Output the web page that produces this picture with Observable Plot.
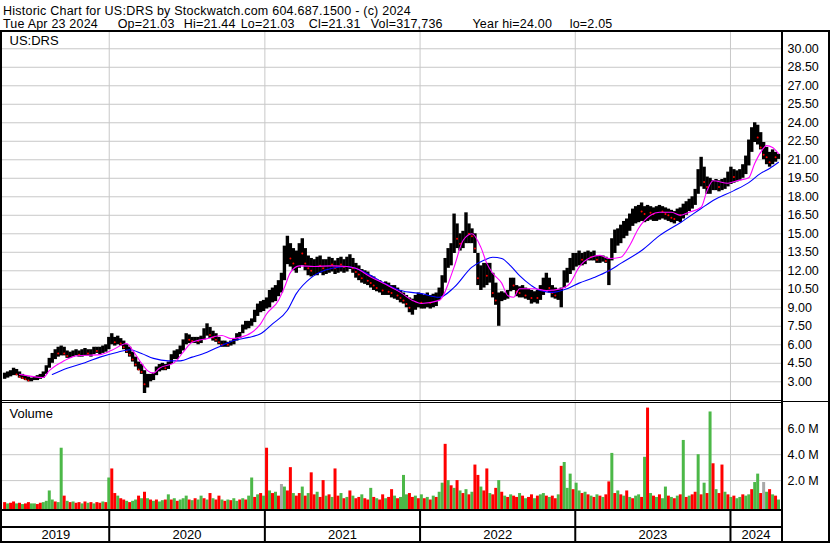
<!DOCTYPE html>
<html><head><meta charset="utf-8">
<script src="https://cdn.jsdelivr.net/npm/d3@7"></script>
<script src="https://cdn.jsdelivr.net/npm/@observablehq/plot@0.6"></script>
<style>
html,body{margin:0;padding:0;background:#fff;}
#chart{position:relative;width:830px;height:543px;overflow:hidden;font-family:"Liberation Sans",Arial,sans-serif;background:#fff;}
.ln{position:absolute;background:#000;}
.panel{position:absolute;left:0;}
</style></head><body><div id="chart"></div>
<script>
// ---------- header text ----------
const titleLine = "Historic Chart for US:DRS by Stockwatch.com 604.687.1500 - (c) 2024";
const infoFields = ["Tue Apr 23 2024", "Op=21.03", "Hi=21.44", "Lo=21.03", "Cl=21.31", "Vol=317,736", "Year hi=24.00", "lo=2.05"];
const symbol = "US:DRS";
const volumeLabel = "Volume";

// ---------- weekly price data (week ending dates counted back from the last bar) ----------
const lastBar = "2024-04-23";
const lo = [
3.2,3.3,3.4,3.5,3.5,3.3,3.2,3.1,3.0,3.0,
3.1,3.1,3.2,3.3,3.6,4.1,4.5,4.8,5.0,5.1,
5.1,4.9,4.9,5.0,5.1,5.0,5.0,5.1,5.1,5.0,
5.2,5.3,5.2,5.3,5.4,5.6,6.0,5.9,6.0,5.9,
5.6,5.3,5.0,4.6,4.2,3.9,3.6,2.05,2.5,3.0,
3.1,3.5,3.8,3.9,3.9,4.0,4.4,4.8,4.8,5.2,
5.5,6.0,6.1,6.1,6.1,6.0,6.1,6.4,6.7,6.5,
6.3,6.2,6.0,5.8,5.8,5.8,5.9,6.0,6.3,6.5,
6.9,7.2,7.3,7.5,7.8,8.3,8.6,8.7,8.9,9.0,
9.4,9.5,9.9,10.2,11.2,12.5,12.3,12.0,11.8,12.2,
12.4,12.0,11.6,11.5,11.6,11.6,11.8,11.6,11.7,11.8,
11.9,11.7,11.8,11.9,11.8,11.9,12.1,11.8,11.4,11.2,
11.0,10.9,10.8,10.6,10.4,10.3,10.2,10.0,10.0,10.0,
9.8,9.7,9.6,9.4,9.3,9.0,8.6,8.4,8.8,9.0,
8.9,8.9,9.0,8.9,9.0,9.1,9.6,9.9,11.0,12.2,
12.4,13.4,13.8,13.6,13.8,14.2,14.2,14.2,13.4,10.8,
10.4,10.6,10.8,11.0,9.8,9.2,7.5,9.5,9.6,9.7,
10.3,10.4,9.9,9.8,9.8,9.7,9.6,9.3,9.4,9.3,
9.6,10.0,10.4,10.2,9.8,9.7,9.6,9.0,10.6,11.0,
11.7,12.0,12.3,12.4,12.4,12.5,12.8,12.8,12.8,12.6,
12.6,12.7,12.6,10.8,12.8,13.4,14.0,14.2,14.6,14.8,
15.2,15.6,15.8,15.9,16.0,15.9,16.0,16.1,16.0,16.0,
16.1,16.2,16.1,16.0,15.9,15.8,16.0,15.9,16.2,16.5,
16.8,17.0,17.3,18.2,18.8,18.6,18.2,18.2,18.5,18.5,
18.4,18.5,18.6,18.8,19.0,19.1,19.2,19.3,19.5,19.8,
20.5,21.6,22.4,22.2,21.8,21.0,20.6,20.4,20.6,20.8,21.03];
const hi = [
3.7,3.8,3.9,4.1,4.0,3.8,3.6,3.5,3.4,3.3,
3.4,3.5,3.6,3.8,4.3,4.9,5.3,5.6,5.8,5.9,
5.8,5.5,5.4,5.5,5.6,5.5,5.6,5.7,5.6,5.6,
5.8,5.8,5.8,5.9,6.0,6.6,6.9,6.6,6.7,6.5,
6.3,6.0,5.8,5.4,5.0,4.6,4.4,3.9,3.6,3.6,
3.7,4.2,4.4,4.5,4.4,4.6,5.2,5.5,5.6,5.9,
6.4,6.9,6.8,6.6,6.6,6.6,6.7,7.3,7.7,7.4,
7.1,6.9,6.6,6.3,6.3,6.2,6.3,6.5,6.9,7.0,
7.6,7.9,7.9,8.1,8.8,9.3,9.5,9.6,9.8,10.4,
10.6,10.8,11.2,11.8,14.0,14.8,14.2,13.8,13.6,14.2,
14.6,13.8,13.2,13.0,12.9,13.1,13.2,12.9,12.9,13.1,
13.0,12.8,13.0,13.1,12.9,13.1,13.3,13.0,12.6,12.4,
12.1,12.0,11.9,11.6,11.5,11.3,11.2,11.0,11.1,11.0,
10.8,10.8,10.6,10.4,10.2,10.0,9.8,9.7,10.0,10.2,
10.1,10.0,10.2,10.0,10.1,10.2,10.6,11.6,13.0,13.8,
14.2,16.6,15.8,15.0,15.2,16.7,15.8,15.4,15.0,13.4,
12.4,12.6,12.6,12.6,11.8,11.0,10.2,10.3,10.2,10.4,
11.4,11.4,10.8,10.7,10.8,10.6,10.5,10.4,10.3,10.4,
10.8,11.4,11.8,11.4,10.8,10.6,10.5,10.6,12.0,12.2,
13.0,13.4,13.4,13.6,13.4,13.5,13.6,13.5,13.6,13.2,
13.2,13.2,13.1,13.0,14.6,15.3,15.4,15.7,16.0,16.2,
16.6,17.0,17.2,17.3,17.5,17.2,17.3,17.2,17.1,17.2,
17.3,17.2,17.1,17.0,16.9,16.8,17.0,17.1,17.4,17.6,
17.8,18.0,18.6,20.2,21.2,20.4,19.6,19.5,19.3,19.4,
19.3,19.4,19.5,20.0,20.4,20.2,20.1,20.2,20.6,21.3,
22.6,23.6,24.0,23.8,23.2,22.4,22.0,21.6,21.8,21.6,21.44];
const close = [
3.5,3.6,3.7,3.8,3.6,3.4,3.3,3.2,3.1,3.2,
3.3,3.4,3.4,3.7,4.2,4.7,5.0,5.4,5.3,5.6,
5.3,5.1,5.2,5.3,5.4,5.2,5.4,5.5,5.3,5.4,
5.6,5.5,5.6,5.7,5.8,6.3,6.5,6.2,6.4,6.1,
5.8,5.5,5.2,4.8,4.4,4.0,3.8,2.8,3.2,3.3,
3.5,4.0,4.1,4.2,4.1,4.4,5.0,5.2,5.4,5.6,
6.2,6.5,6.4,6.3,6.4,6.3,6.5,7.0,7.2,6.8,
6.6,6.4,6.2,6.0,6.1,6.0,6.1,6.3,6.6,6.8,
7.4,7.6,7.7,7.9,8.6,9.0,9.2,9.4,9.5,10.0,
10.2,10.4,10.9,11.5,13.2,13.8,13.0,12.6,12.8,13.5,
13.4,12.6,12.2,12.0,12.3,12.5,12.4,12.2,12.4,12.6,
12.5,12.2,12.6,12.5,12.3,12.7,12.8,12.2,11.9,11.7,
11.4,11.5,11.2,11.0,10.8,10.6,10.7,10.4,10.6,10.3,
10.2,10.3,10.0,9.8,9.6,9.3,9.0,9.2,9.5,9.6,
9.4,9.5,9.7,9.4,9.6,9.8,10.2,11.2,12.6,13.2,
13.6,15.2,14.6,14.2,14.6,15.5,15.0,14.8,13.8,11.4,
11.8,12.0,11.6,11.8,10.2,9.6,9.8,9.9,9.9,10.1,
11.0,10.8,10.3,10.2,10.4,10.0,10.1,9.8,9.9,9.8,
10.4,11.0,11.2,10.6,10.2,10.0,10.1,10.3,11.6,11.8,
12.6,12.8,13.0,13.2,12.9,13.1,13.3,13.1,13.2,12.9,
12.9,13.0,12.8,12.0,14.2,14.8,14.9,15.2,15.5,15.8,
16.2,16.6,16.8,16.9,16.8,16.6,16.8,16.7,16.6,16.8,
16.9,16.8,16.6,16.5,16.3,16.2,16.6,16.5,17.0,17.2,
17.4,17.6,18.3,19.8,20.0,19.2,18.8,18.9,18.9,19.0,
18.8,19.1,19.2,19.6,19.8,19.6,19.7,19.8,20.2,20.9,
22.2,23.0,23.2,22.8,22.0,21.4,21.2,20.8,21.4,21.2,21.31];
// weekly volume (millions) and bar colour code g = up, r = down, n = unchanged
const volume = [
0.3,0.2,0.25,0.35,0.2,0.25,0.15,0.2,0.3,0.2,
0.2,0.15,0.25,0.3,0.4,1.2,0.5,0.35,0.3,4.5,
0.8,0.4,0.3,0.35,0.25,0.3,0.2,0.35,0.25,0.3,
0.2,0.3,0.25,0.35,0.3,2.2,2.9,1.0,0.8,0.6,
0.5,0.4,0.3,0.4,0.5,0.8,0.6,1.1,0.6,0.5,
0.4,0.5,0.35,0.45,0.5,0.9,0.5,0.6,0.4,0.5,
0.6,0.8,0.5,0.45,0.6,0.5,0.8,0.6,0.5,1.0,
0.6,0.5,0.8,0.5,0.4,0.5,0.45,0.6,0.4,0.5,
0.6,0.5,0.8,2.2,0.7,0.9,1.0,0.8,4.5,1.2,
1.0,1.1,0.8,1.7,1.5,1.2,3.0,1.0,0.8,1.0,
1.5,0.8,1.0,2.6,0.9,1.1,0.7,2.0,0.8,0.9,
0.7,2.9,0.8,1.0,0.6,0.7,1.2,0.8,0.6,0.7,
0.9,0.6,0.5,1.4,0.7,0.6,0.5,0.9,0.6,0.7,
1.3,0.8,0.6,0.7,2.4,0.9,1.0,0.7,0.8,0.6,
0.9,0.6,0.7,0.5,0.8,0.7,1.1,1.8,4.8,2.0,
1.6,1.4,2.0,1.2,1.0,1.3,0.9,1.1,3.2,2.4,
1.5,1.2,2.9,1.0,0.9,1.4,2.0,1.1,0.8,0.7,
0.9,0.8,0.7,1.0,0.8,0.6,0.7,0.9,0.6,0.8,
0.9,1.0,0.8,0.7,0.8,0.6,0.9,3.1,3.4,1.4,
2.5,1.3,1.8,1.2,1.0,1.1,0.9,0.8,0.7,0.9,
0.8,0.7,0.9,1.9,4.1,1.0,1.2,0.9,0.8,1.2,
0.7,0.6,0.8,0.9,0.7,3.8,7.6,1.0,0.8,0.7,
0.9,0.6,1.5,0.8,0.7,0.6,0.8,0.9,5.1,0.7,
0.8,0.9,1.1,4.0,0.9,1.8,1.0,7.3,3.3,1.3,
1.0,3.2,1.1,0.9,0.7,0.8,0.6,0.7,0.9,0.8,
0.9,1.3,1.85,2.5,1.0,1.85,1.1,1.3,0.9,0.8,0.5];
const volDir =
"rgrrgrgrrg"+"grrggggrgg"+"rgrgrrgrgr"+"grrgrgrrgr"+"rgrggrgrgr"+
"grggrgrgrg"+"ggrgrggrgr"+"grrgrgrggr"+"grggrgrgrg"+"rgrngrrgrr"+
"grgrrgrrgr"+"grrgrgrgrr"+"grrgrgrrgr"+"rgrgggrrgr"+"grgrgrggrg"+
"rgrgrgrgrr"+"grrgrrgrgr"+"grrgrgrrgr"+"ggrgrrgrgg"+"grggrgrgrg"+
"rgrrgrgrgr"+"grggrgrgrg"+"rggrgrgrgr"+"grrgrgrgrg"+"rrgrgrggrg"+
"grggrngrgrg";

// moving averages: [week index, value]
const pinkWeek = [5,13,15,20,24,32,36,41,43,46,48,50,52,57,60,63,68,73,76,79,83,86,88,92,94,96,99,104,110,115,118,123,128,133,137,140,146,151,154,157,160,162,164,167,169,171,173,178,182,187,190,193,197,200,203,207,210,213,217,220,224,227,230,234,236,238,243,246,250,252,254,256,258,260];
const pinkVal = [3.6,3.35,3.9,4.7,5.1,5.2,5.55,6.1,5.55,4.5,3.9,3.7,4.1,4.55,5.4,6.2,6.5,6.75,6.5,6.6,7.0,7.7,8.5,9.6,10.65,11.85,12.4,12.35,12.4,12.35,12.2,11.5,10.9,10.25,9.6,9.35,9.6,12.3,14.45,15.0,13.9,12.6,11.8,11.0,10.0,9.85,10.55,10.55,10.4,10.55,11.0,12.3,13.1,13.25,13.0,13.1,14.05,15.45,16.5,16.75,16.75,16.5,16.75,17.15,18.5,19.3,19.1,19.3,19.55,20.7,21.6,22.15,22.0,21.5];
const blueWeek = [16,21,27,32,38,42,46,50,55,59,63,68,73,77,82,86,90,95,98,103,110,115,120,126,133,140,146,151,157,161,164,167,170,173,177,180,184,189,193,198,203,207,214,220,227,234,238,245,250,254,257,260];
const blueVal = [3.6,4.1,4.55,5.0,5.4,5.6,5.3,4.9,4.7,4.7,5.0,5.4,5.95,6.35,6.6,6.9,7.7,8.8,10.15,11.45,12.2,12.35,12.0,11.2,10.4,10.15,9.85,10.65,12.3,12.85,13.1,13.0,12.4,11.6,10.8,10.4,10.25,10.55,11.0,11.45,12.0,12.6,13.65,14.85,15.9,17.05,17.7,18.5,19.15,19.9,20.3,20.8];

// axis ticks
const priceTicks = [3,4.5,6,7.5,9,10.5,12,13.5,15,16.5,18,19.5,21,22.5,24,25.5,27,28.5,30];
const volTicks = [2e6,4e6,6e6];
const years = [2019,2020,2021,2022,2023,2024];

// ---------- build ----------
const N = hi.length;
const last = new Date(lastBar + "T00:00:00Z");
const weeks = hi.map((h, i) => ({
  date: d3.utcDay.offset(last, -7 * (N - 1 - i)),
  hi: h, lo: lo[i], close: close[i], vol: volume[i] * 1e6, dir: volDir[i]
}));
const downs = weeks.filter((d, i) => i > 0 && d.close < weeks[i - 1].close);
const pink = pinkWeek.map((w, i) => ({date: weeks[w].date, v: pinkVal[i]}));
const blue = blueWeek.map((w, i) => ({date: weeks[w].date, v: blueVal[i]}));
const colorOf = {g: "#4cb848", r: "#ff0000", n: "#a8a8a8"};

const xDomain = [new Date(Date.UTC(2019, 3, 25)), new Date(Date.UTC(2024, 3, 30))];
const yearStarts = years.slice(1).map(y => new Date(Date.UTC(y, 0, 1)));
const yearMid = years.map(y => {
  const a = Math.max(+new Date(Date.UTC(y, 0, 1)), +xDomain[0]);
  const b = Math.min(+new Date(Date.UTC(y + 1, 0, 1)), +xDomain[1]);
  return {label: String(y), date: new Date((a + b) / 2)};
});
const GRID = "#c8c8c8";
const FONT = "Liberation Sans, Arial, sans-serif";
const common = {width: 830, marginLeft: 2, marginRight: 49,
  x: {type: "utc", domain: xDomain, axis: null},
  style: {background: "transparent", fontFamily: FONT, overflow: "visible"}};

const chart = document.getElementById("chart");
function place(el, top) { el.classList.add("panel"); el.style.top = top + "px"; chart.appendChild(el); }

// header
const SVGNS = "http://www.w3.org/2000/svg";
const hdr = document.createElementNS(SVGNS, "svg");
hdr.setAttribute("width", 830); hdr.setAttribute("height", 30);
const t1 = document.createElementNS(SVGNS, "text");
t1.setAttribute("x", 3); t1.setAttribute("y", 14.5);
t1.setAttribute("font-family", FONT); t1.setAttribute("font-size", 12.5);
t1.setAttribute("letter-spacing", "0.23");
t1.textContent = titleLine; hdr.appendChild(t1);
const t2 = document.createElementNS(SVGNS, "text");
t2.setAttribute("y", 27.5); t2.setAttribute("font-family", FONT); t2.setAttribute("font-size", 12.5);
t2.setAttribute("letter-spacing", "0.2");
const fieldX = [3, 114, 180, 237, 305, 367, 469, 566];
infoFields.forEach((f, i) => {
  const ts = document.createElementNS(SVGNS, "tspan");
  ts.setAttribute("x", fieldX[i]); ts.textContent = (i ? " " : "") + f;
  t2.appendChild(ts);
});
hdr.appendChild(t2);
place(hdr, 0);

// price panel
const price = Plot.plot({
  ...common, height: 372, marginTop: 1, marginBottom: 2,
  y: {domain: [1.484, 31.40], axis: null},
  marks: [
    Plot.ruleY(priceTicks, {stroke: GRID}),
    Plot.ruleX(yearStarts, {stroke: GRID}),
    Plot.ruleX(weeks, {x: "date", y1: "lo", y2: "hi", stroke: "#000", strokeWidth: 3.4}),
    Plot.dot(downs, {x: "date", y: "close", r: 1, fill: "#ff0000", stroke: null}),
    Plot.line(blue, {x: "date", y: "v", stroke: "#0000ff", strokeWidth: 1.1, curve: "monotone-x"}),
    Plot.line(pink, {x: "date", y: "v", stroke: "#ff00ff", strokeWidth: 1.1, curve: "monotone-x"}),
    Plot.text(priceTicks, {y: d => d, text: d => d.toFixed(2), frameAnchor: "right", dx: 6, textAnchor: "start", fontSize: 12.5, fill: "#000"}),
    Plot.text([symbol], {frameAnchor: "top-left", dx: 7, dy: 9.5, lineAnchor: "middle", textAnchor: "start", fontSize: 13, fill: "#000"})
  ]
});
place(price, 30);

// volume panel
const volDomain = [-0.232e6, 7.954e6];
const vol = Plot.plot({
  ...common, height: 108, marginTop: 1, marginBottom: 1,
  y: {domain: volDomain, axis: null},
  marks: [
    Plot.ruleY(volTicks, {stroke: GRID}),
    Plot.ruleX(yearStarts, {stroke: GRID}),
    Plot.ruleX(weeks, {x: "date", y1: () => volDomain[0], y2: "vol", stroke: d => colorOf[d.dir], strokeWidth: 3}),
    Plot.text(volTicks, {y: d => d, text: d => (d / 1e6).toFixed(1) + " M", frameAnchor: "right", dx: 6, textAnchor: "start", fontSize: 12.5, fill: "#000"}),
    Plot.text([volumeLabel], {frameAnchor: "top-left", dx: 7, dy: 10.5, lineAnchor: "middle", textAnchor: "start", fontSize: 13, fill: "#000"})
  ]
});
place(vol, 402);

// year label band
const band = Plot.plot({
  ...common, height: 32, marginTop: 0, marginBottom: 2,
  y: {axis: null},
  marks: [
    Plot.ruleX(yearStarts, {stroke: "#000", strokeWidth: 2}),
    Plot.text(yearMid, {x: "date", text: "label", frameAnchor: "top", dy: 23.5, lineAnchor: "middle", fontSize: 13, fill: "#000"})
  ]
});
place(band, 511);

// frame lines
[[0,30,830,2],[0,30,2,513],[781,30,2,513],[828,30,2,513],
 [0,400,781,1],[0,402,781,1],[781,401,49,1],
 [0,509,783,2],[0,526,783,2],[0,541,830,2]].forEach(([l,t,w,h]) => {
  const d = document.createElement("div"); d.className = "ln";
  d.style.left = l + "px"; d.style.top = t + "px"; d.style.width = w + "px"; d.style.height = h + "px";
  chart.appendChild(d);
});
</script></body></html>
